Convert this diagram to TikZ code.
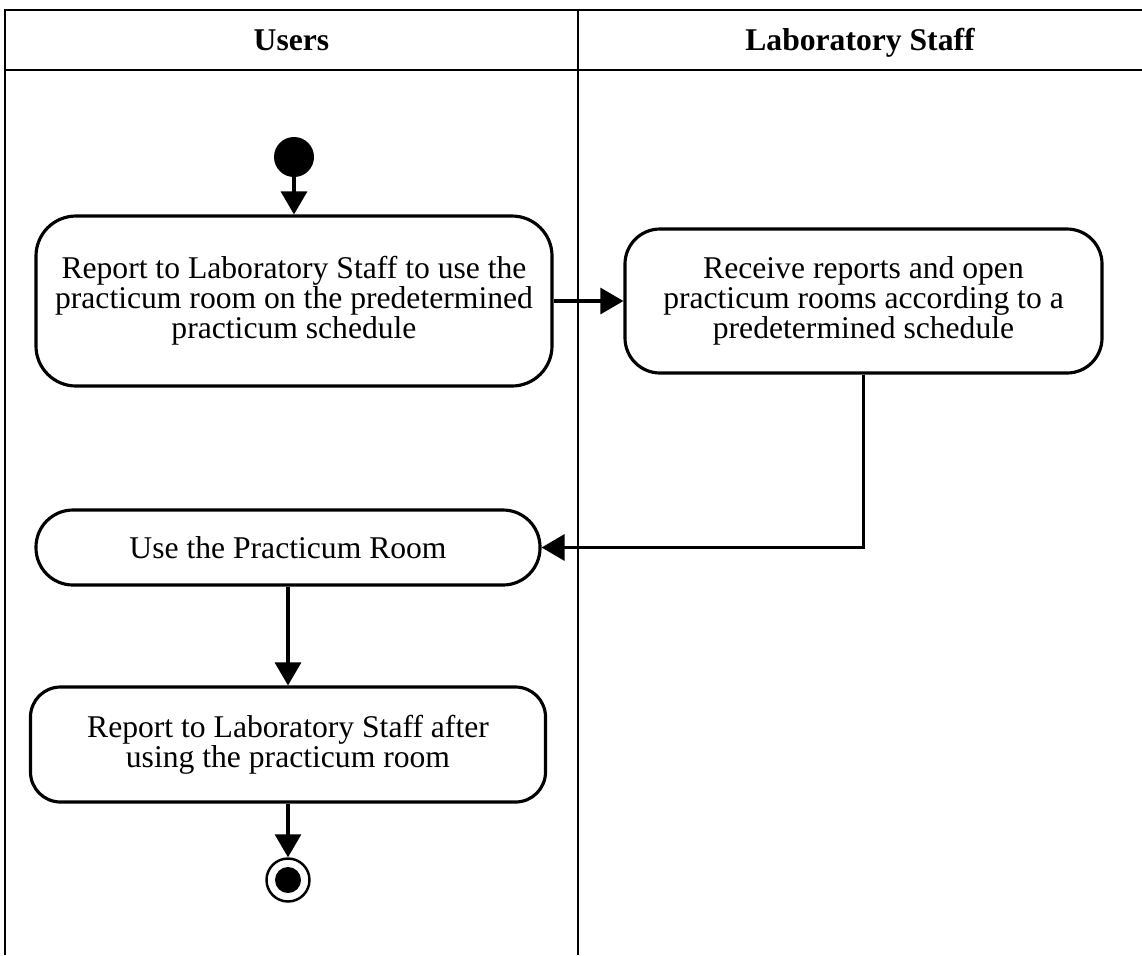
\documentclass[tikz,border=0pt]{standalone}
\usepackage{fontspec}
\setmainfont{Liberation Serif}
\usetikzlibrary{arrows.meta}

\tikzstyle{action} = [rectangle, draw, line width=1.8pt, fill=white, align=center, font=\fontsize{18}{17}\selectfont]
\tikzstyle{arrow} = [draw, line width=1.8pt, -{Triangle[length=0.46cm, width=0.52cm]}]
\tikzstyle{lane} = [draw, line width=1.1pt]
\tikzstyle{head} = [anchor=base, font=\bfseries\fontsize{18}{18}\selectfont]
\tikzstyle{start} = [circle, fill=black, minimum size=0.8cm, inner sep=0pt]
\tikzstyle{finish} = [circle, draw, line width=1.4pt, fill=white, minimum size=0.86cm, inner sep=0pt,
    path picture={\fill[black] (path picture bounding box.center) circle (0.26cm);}]

\begin{document}
\begin{tikzpicture}[node distance=1cm, auto]
    \path[use as bounding box] (0,0) rectangle (22.84,-19.1);

    % swimlanes
    \draw[lane] (22.84,-0.2) -- (0.1,-0.2) -- (0.1,-19.1);
    \draw[lane] (0.1,-1.4) -- (22.84,-1.4);
    \draw[lane] (11.56,-0.2) -- (11.56,-19.1);
    \node[head] (users) at (5.83,-1.0) {Users};
    \node[head] (staff) at (17.2,-1.0) {Laboratory Staff};

    % actions
    \node[action, minimum width=10.32cm, minimum height=3.4cm, rounded corners=0.8cm] (report) at (5.88,-6.02)
        {Report to Laboratory Staff to use the\\practicum room on the predetermined\\practicum schedule};
    \node[start, above of=report, node distance=2.88cm] (init) {};
    \node[action, right of=report, node distance=11.39cm, minimum width=9.54cm, minimum height=2.88cm, rounded corners=0.7cm] (receive)
        {Receive reports and open\\practicum rooms according to a\\predetermined schedule};
    \node[action, below of=report, node distance=4.93cm, xshift=-0.12cm, minimum width=10.08cm, minimum height=1.5cm, rounded corners=0.74cm] (use)
        {Use the Practicum Room};
    \node[action, below of=use, node distance=3.94cm, minimum width=10.3cm, minimum height=2.3cm, rounded corners=0.6cm] (after)
        {Report to Laboratory Staff after\\using the practicum room};
    \node[finish, below of=after, node distance=2.71cm] (final) {};

    % lines
    \draw [arrow] (init.south) to (report.north);
    \draw [arrow] (report.east) to (receive.west);
    \draw [arrow] (receive.south) |- (use.east);
    \draw [arrow] (use.south) to (after.north);
    \draw [arrow] (after.south) to (final.north);
\end{tikzpicture}
\end{document}
